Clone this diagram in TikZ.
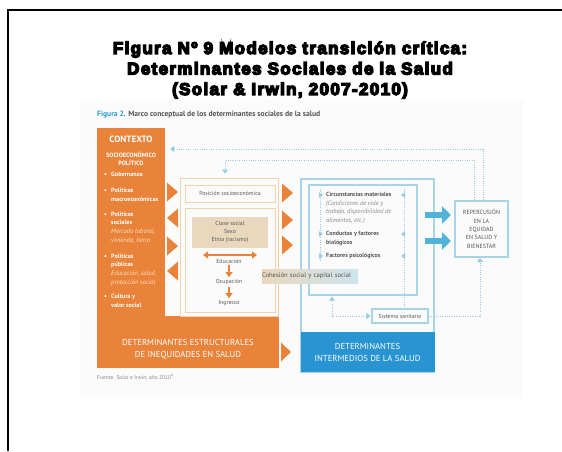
\documentclass[tikz,border=0pt]{standalone}
\usepackage{fontspec}
\setmainfont{PT Sans}
\newfontfamily\titlefont{Liberation Sans Bold}[FakeBold=8,LetterSpace=8]
\usetikzlibrary{arrows.meta}

\definecolor{cOrange}{RGB}{233,131,58}
\definecolor{cTan}{RGB}{234,216,190}
\definecolor{cTanLine}{RGB}{242,210,172}
\definecolor{cBlue}{RGB}{40,148,210}
\definecolor{cPaleBlue}{RGB}{168,212,232}
\definecolor{cShadeBlue}{RGB}{205,228,238}
\definecolor{cArrow}{RGB}{80,180,218}
\definecolor{cDot}{RGB}{150,205,228}
\definecolor{cText}{RGB}{85,85,85}
\definecolor{cItal}{RGB}{135,135,135}
\definecolor{cPale}{RGB}{252,222,190}
\definecolor{cCaption}{RGB}{40,160,215}
\definecolor{cScan}{RGB}{251,251,251}

% orange and dotted arrowheads: base x, centre y, signed length
\newcommand{\otri}[3]{\fill[cOrange] (#1,#2-9.5) -- ++(#3,9.5) -- (#1,#2+9.5) -- cycle;}
\newcommand{\dtri}[3]{\fill[cDot] (#1,#2-2.8) -- ++(#3,2.8) -- (#1,#2+2.8) -- cycle;}

\tikzset{>={Triangle[length=4pt,width=6pt]}}

\begin{document}
\begin{tikzpicture}[x=1pt,y=-1pt,
  txt/.style={inner sep=0pt,text=cText,font=\fontsize{5.8}{8}\selectfont},
  ctx/.style={inner sep=0pt,text=white,font=\bfseries\fontsize{6.2}{6.5}\selectfont,anchor=base west},
  ctxit/.style={inner sep=0pt,text=cPale,font=\itshape\fontsize{6.5}{6.5}\selectfont,anchor=base west},
  mid/.style={inner sep=0pt,text=cText,font=\bfseries\fontsize{6}{6}\selectfont,anchor=base west},
  midit/.style={inner sep=0pt,text=cItal,font=\itshape\fontsize{6.3}{6}\selectfont,anchor=base west},
  tanframe/.style={draw=cTanLine,line width=1pt,inner sep=0pt},
  blueframe/.style={draw=cPaleBlue,line width=1.4pt,inner sep=0pt},
  band/.style={inner sep=0pt,text=white,align=center,font=\fontsize{8.7}{12}\selectfont},
  dots/.style={draw=cDot,line width=1pt,dash pattern=on 1pt off 1.3pt},
  bigarrow/.style={draw=cArrow,line width=6pt,-{Triangle[length=9pt,width=17pt]}},
  oarrow/.style={draw=cOrange,line width=2pt}]
\useasboundingbox (0,0) rectangle (562,451);

% frame
\draw[line width=1.6pt] (8,451) -- (8,10) -- (562,10);

% title
\node[align=center,font=\titlefont\fontsize{17}{20.5}\selectfont] (title) at (290,70)
  {Figura Nº 9 Modelos transición crítica:\\Determinantes Sociales de la Salud\\(Solar \& Irwin, 2007-2010)};

% scanned figure
\fill[cScan] (80,100) rectangle (523,399);
\node[anchor=base west,inner sep=0pt,text=cText,font=\bfseries\fontsize{7.6}{7}\selectfont] (caption) at (97,116)
  {\textcolor{cCaption}{Figura 2.} Marco conceptual de los determinantes sociales de la salud};

% structural determinants
\node[fill=cOrange,minimum width=68,minimum height=240,inner sep=0pt] (contexto) at (131,248) {};
\node[fill=cOrange,minimum width=182,minimum height=52,inner sep=0pt] (estruct) at (188,342) {};
\node[inner sep=0pt,text=white,font=\bfseries\fontsize{9.1}{9}\selectfont] (ctxtitle) at (131,139) {CONTEXTO};
\node[ctx,anchor=base] (socio) at (131,157) {SOCIOECONÓMICO};
\node[ctx,anchor=base] (poli) at (131,165.5) {POLÍTICO};
\foreach \y in {176,192,216,258,298}
  \node[ctx] at (104,\y) {\textbullet};
\foreach \y/\t in {176/Gobernanza,192/Políticas,201/macroeconómicas,216/Políticas,224/sociales,
    258/Políticas,266/públicas,298/Cultura y,307/valor social}
  \node[ctx] at (111,\y) {\t};
\foreach \y/\t in {233/{Mercado laboral,},242/{vivienda, tierra},275/{Educación, salud,},284/protección social}
  \node[ctxit] at (111,\y) {\t};
\node[band] (estructtxt) at (188,349) {DETERMINANTES ESTRUCTURALES\\DE INEQUIDADES EN SALUD};

\node[tanframe,minimum width=98,minimum height=138] (posframe) at (229,247) {};
\node[tanframe,minimum width=90,minimum height=17,txt] (posicion) at (230,193.5) {Posición socioeconómica};
\node[tanframe,minimum width=90,minimum height=104] (clasebox) at (230,260) {};
\node[fill=cTan,minimum width=76,minimum height=31,inner sep=0pt,txt,align=center] (clase) at (230,232.5)
  {Clase social\\Sexo\\Etnia (racismo)};
\coordinate (eduL) at (203,255);
\coordinate (eduR) at (257,255);
\draw[oarrow,{Triangle[length=5pt,width=7pt]}-{Triangle[length=5pt,width=7pt]}] (eduL) -- (eduR);
\node[txt] (edu) at (229,261) {Educación};
\node[txt] (ocu) at (229,282) {Ocupación};
\node[txt] (ing) at (229,303) {Ingresos};
\draw[oarrow,-{Triangle[length=5pt,width=7pt]},shorten <=2pt,shorten >=2pt] (edu) -- (ocu);
\draw[oarrow,-{Triangle[length=5pt,width=7pt]},shorten <=2pt,shorten >=2pt] (ocu) -- (ing);

\otri{167}{192}{11}
\otri{178}{218}{-11}
\otri{167}{246}{11}
\otri{178}{271}{-11}
\otri{282}{193}{11}
\otri{282}{220}{11}
\otri{282}{245}{11}
\otri{281}{352}{10}

% intermediary determinants
\node[draw=cPaleBlue,line width=1.2pt,minimum width=133,minimum height=193,inner sep=0pt] (interm) at (367.5,275.5) {};
\node[fill=cBlue,minimum width=134,minimum height=40,band] (intband) at (367.5,352) {DETERMINANTES\\INTERMEDIOS DE LA SALUD};
\node[blueframe,minimum width=108,minimum height=110] (inner) at (363,240) {};
\node[left color=cTan,right color=cShadeBlue,text width=96pt,inner sep=2pt,minimum height=14,txt,
  font=\fontsize{6.6}{7}\selectfont,align=left] (cohesion) at (310,276)
  {Cohesión social y capital social};

\coordinate (ldot) at (320,189);
\coordinate (rdot) at (404,189);
\draw[dots] (ldot) -- ++(0,72);
\draw[dots] (rdot) -- (rdot |- 0,309);
\foreach \y in {195,234,256} {
  \dtri{319}{\y}{4}
  \dtri{405}{\y}{-4}
}
\node[mid] (circ) at (326,196) {Circunstancias materiales};
\foreach \y/\t in {205/(Condiciones de vida y,213/{trabajo, disponibilidad de},222/{alimentos, etc.)}}
  \node[midit] at (326,\y) {\t};
\node[mid] (cond) at (326,235) {Conductas y factores};
\node[mid] (bio) at (326,244) {biológicos};
\node[mid] (psico) at (326,257) {Factores psicológicos};

\node[blueframe,line width=1.2pt,minimum width=56,minimum height=14,txt,font=\fontsize{5.8}{6}\selectfont] (sistema) at (400,316) {Sistema sanitario};
\coordinate (sisL) at (332,316);
\coordinate (sisR) at (480,316);
\draw[dots,<->,shorten >=1pt,shorten <=1pt] (sistema.west) -- (sisL) -- (sisL |- inner.south);

% health equity
\node[draw=cPaleBlue,line width=2pt,minimum width=53,minimum height=56,inner sep=0pt,align=center,
  text=cText,font=\fontsize{6}{8.4}\selectfont] (reper) at (481.5,229)
  {REPERCUSIÓN\\EN LA\\EQUIDAD\\EN SALUD Y\\BIENESTAR};
\draw[dots,->] (sistema.east) -- (sisR) -- (sisR |- reper.south);
\draw[bigarrow] ([xshift=-10pt]interm.east |- 0,215) -- ([xshift=-3pt]reper.west |- 0,215);
\draw[bigarrow] ([xshift=-10pt]interm.east |- 0,241) -- ([xshift=-3pt]reper.west |- 0,241);

% feedback
\coordinate (fbtop) at (483,149);
\coordinate (fblow) at (474,160);
\draw[dots,->,shorten >=5pt] (reper.north -| fbtop) -- (fbtop) -- (fbtop -| contexto.east);
\draw[dots,->,shorten >=4pt] (reper.north -| fblow) -- (fblow) -- (fblow -| 225,0) -- (225,0 |- posframe.north);

\node[anchor=base west,inner sep=0pt,text=cItal,font=\fontsize{5.5}{5}\selectfont] (fuente) at (97,379)
  {Fuente: Solar e Irwin, año 2010\textsuperscript{6}};
\end{tikzpicture}
\end{document}
